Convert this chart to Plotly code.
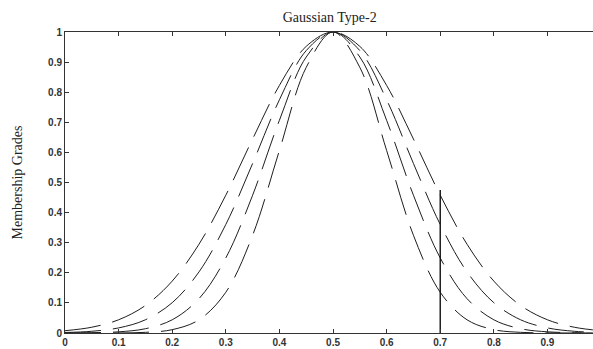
import plotly.graph_objects as go

x_vals = [0.0, 0.05, 0.10, 0.15, 0.20, 0.25, 0.30, 0.35, 0.40, 0.45, 0.50,
          0.55, 0.60, 0.65, 0.70, 0.75, 0.80, 0.85, 0.90, 0.95, 1.0]

# four dashed membership curves (narrowest to widest)
curve_a = [0.0, 0.0, 0.0003, 0.0022, 0.0111, 0.0439, 0.1353, 0.3247, 0.6065, 0.8825, 1.0,
           0.8825, 0.6065, 0.3247, 0.1353, 0.0439, 0.0111, 0.0022, 0.0003, 0.0, 0.0]
curve_b = [0.0002, 0.0009, 0.0039, 0.0142, 0.0439, 0.1141, 0.2494, 0.4578, 0.7066, 0.9169, 1.0,
           0.9169, 0.7066, 0.4578, 0.2494, 0.1141, 0.0439, 0.0142, 0.0039, 0.0009, 0.0002]
curve_c = [0.0017, 0.0057, 0.0169, 0.0439, 0.1007, 0.2030, 0.3605, 0.5633, 0.7748, 0.9382, 1.0,
           0.9382, 0.7748, 0.5633, 0.3605, 0.2030, 0.1007, 0.0439, 0.0169, 0.0057, 0.0017]
curve_d = [0.0076, 0.0192, 0.0439, 0.0914, 0.1724, 0.2950, 0.4578, 0.6444, 0.8226, 0.9523, 1.0,
           0.9523, 0.8226, 0.6444, 0.4578, 0.2950, 0.1724, 0.0914, 0.0439, 0.0192, 0.0076]

# vertical segment at x = 0.7
vline_x = [0.7, 0.7]
vline_y = [0.0, 0.475]

x_ticks = [0, 0.1, 0.2, 0.3, 0.4, 0.5, 0.6, 0.7, 0.8, 0.9]
y_ticks = [0, 0.1, 0.2, 0.3, 0.4, 0.5, 0.6, 0.7, 0.8, 0.9, 1]

fig = go.Figure()
for c in [curve_a, curve_b, curve_c, curve_d]:
    fig.add_trace(go.Scatter(x=x_vals, y=c, mode="lines",
                             line=dict(color="#1e1e1e", width=1.0, dash="36px,12px", shape="spline"),
                             showlegend=False, hoverinfo="skip"))
fig.add_trace(go.Scatter(x=vline_x, y=vline_y, mode="lines",
                         line=dict(color="#111111", width=1.4),
                         showlegend=False, hoverinfo="skip"))

tick_font = dict(family="Liberation Sans, Arial", size=10, color="#333333", weight="bold")

fig.update_layout(
    width=593, height=349,
    margin=dict(l=65, r=0, t=32, b=16),
    paper_bgcolor="white", plot_bgcolor="white",
    title=dict(text="Gaussian Type-2", x=0.556, xanchor="center", y=0.952, yanchor="middle",
               font=dict(family="Liberation Serif, Times New Roman", size=14, color="#222222")),
    xaxis=dict(range=[0, 0.985], tickvals=x_ticks, ticks="inside", ticklen=4,
               tickcolor="#333", showline=True, linecolor="#333", linewidth=1,
               mirror="ticks", showgrid=False, zeroline=False, tickfont=tick_font),
    yaxis=dict(range=[0, 1], tickvals=y_ticks, ticks="inside", ticklen=4,
               tickcolor="#333", showline=True, linecolor="#333", linewidth=1,
               mirror=False, showgrid=False, zeroline=False, tickfont=tick_font,
               title=dict(text="Membership Grades", standoff=22,
                          font=dict(family="Liberation Serif, Times New Roman", size=14, color="#222222"))),
)

fig.write_html("out.html")
